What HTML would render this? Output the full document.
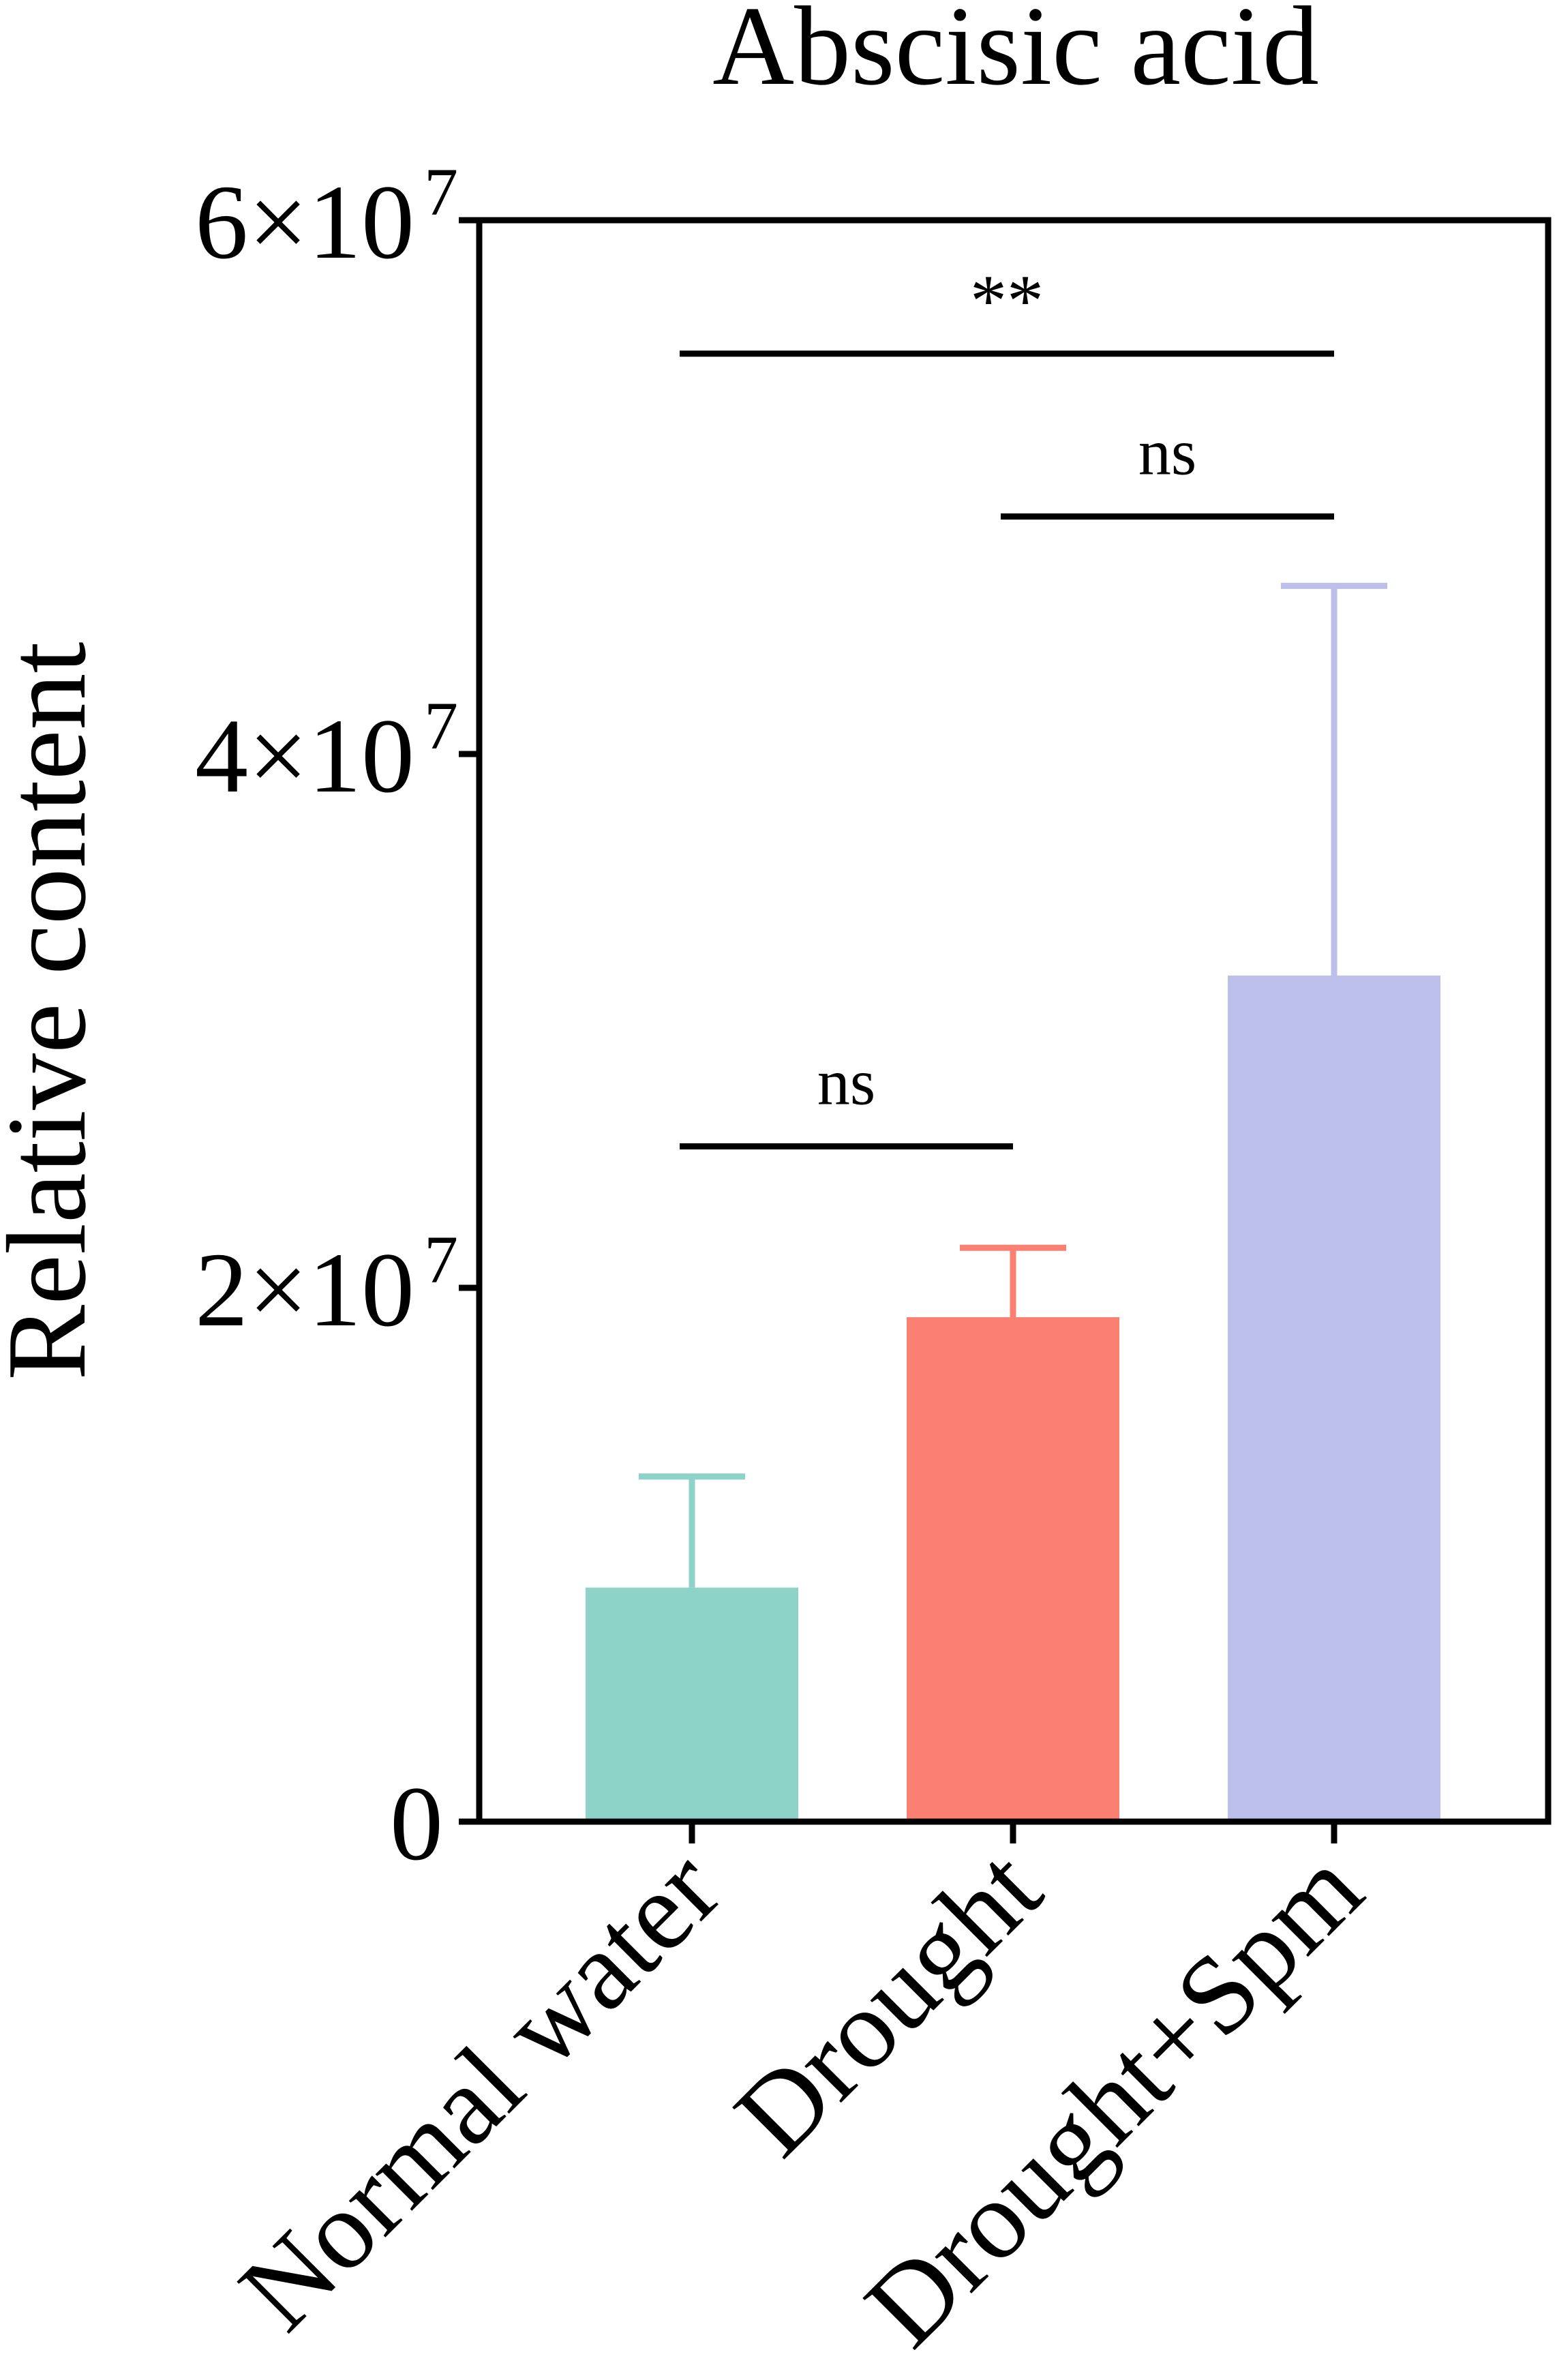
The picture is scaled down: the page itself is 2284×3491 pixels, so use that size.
<!DOCTYPE html>
<html><head><meta charset="utf-8"><style>body{margin:0;background:#fff}svg{display:block}text{font-family:"Liberation Serif",serif;fill:#000}</style></head>
<body>
<svg width="2284" height="3491" viewBox="0 0 2284 3491">
<g id="plot"></g>
</svg>
<script>
const categories = ["Normal water","Drought","Drought+Spm"];
const means = [8.77e6, 18.9e6, 31.7e6];
const errors = [4.16e6, 2.6e6, 14.6e6];
const colors = ["#8dd3c7","#fb8072","#bcbfea"];
const yTicks = [0, 2e7, 4e7, 6e7];
const yTickLabels = ["0","2×10","4×10","6×10"];
const sigLabels = ["ns","ns","**"];
const sigPairs = [[0,1],[1,2],[0,2]];
const sigHeights = [25.3e6, 48.9e6, 55.0e6];

const NS="http://www.w3.org/2000/svg";
const g=document.getElementById('plot');
const X0=703,X1=2271,Y0=2672,Y1=323;
const y=v=>Y0-(v/6e7)*(Y0-Y1);
const xc=i=>1015+i*471;
const BW=312;
function mk(t,a,txt){const e=document.createElementNS(NS,t);for(const k in a)e.setAttribute(k,a[k]);if(txt!==undefined)e.textContent=txt;g.appendChild(e);return e;}

let e=mk('text',{x:1490,y:123,'text-anchor':'middle','font-size':166},'Abscisic acid');


e=mk('text',{transform:'translate(124,1483) rotate(-90)','text-anchor':'middle','font-size':166},'Relative content');



categories.forEach((c,i)=>{
  const col=colors[i];
  let b=mk('rect',{x:xc(i)-BW/2,y:y(means[i]),width:BW,height:Y0-y(means[i]),fill:col});
  
  
  const top=y(means[i]+errors[i]);
  let eb=mk('path',{d:`M${xc(i)} ${y(means[i])}V${top}M${xc(i)-78} ${top}H${xc(i)+78}`,stroke:col,'stroke-width':9,fill:'none'});
  
  
  let tk=mk('line',{x1:xc(i),x2:xc(i),y1:Y0,y2:Y0+32,stroke:'#000','stroke-width':9});
  
  
  let lb=mk('text',{transform:`translate(${xc(i)+50},${Y0+110}) rotate(-45)`,'text-anchor':'end','font-size':165},c);
  
  
});

yTicks.forEach((v,i)=>{
  let t=mk('line',{x1:X0-30,x2:X0,y1:y(v),y2:y(v),stroke:'#000','stroke-width':9});
  
  
  let lb=mk('text',{x:i===0?650:608,y:y(v)+55,'text-anchor':'end','font-size':156},yTickLabels[i]);
  
  
  if(i>0){let s=mk('text',{x:672,y:y(v)-8,'text-anchor':'end','font-size':100},'7');
  
  }
});

let ax=mk('rect',{x:X0,y:Y1,width:X1-X0,height:Y0-Y1,fill:'none',stroke:'#000','stroke-width':9});



sigPairs.forEach((p,i)=>{
  const yy=y(sigHeights[i]);
  const xa=xc(p[0])-18,xb=xc(p[1]);
  let l=mk('line',{x1:xa,x2:xb,y1:yy,y2:yy,stroke:'#000','stroke-width':9});
  
  
  let t=mk('text',{x:(xa+xb)/2,y:yy-(sigLabels[i]==='**'?42:62),'text-anchor':'middle','font-size':sigLabels[i]==='**'?108:96},sigLabels[i]);
  
  
});
</script>
</body></html>
